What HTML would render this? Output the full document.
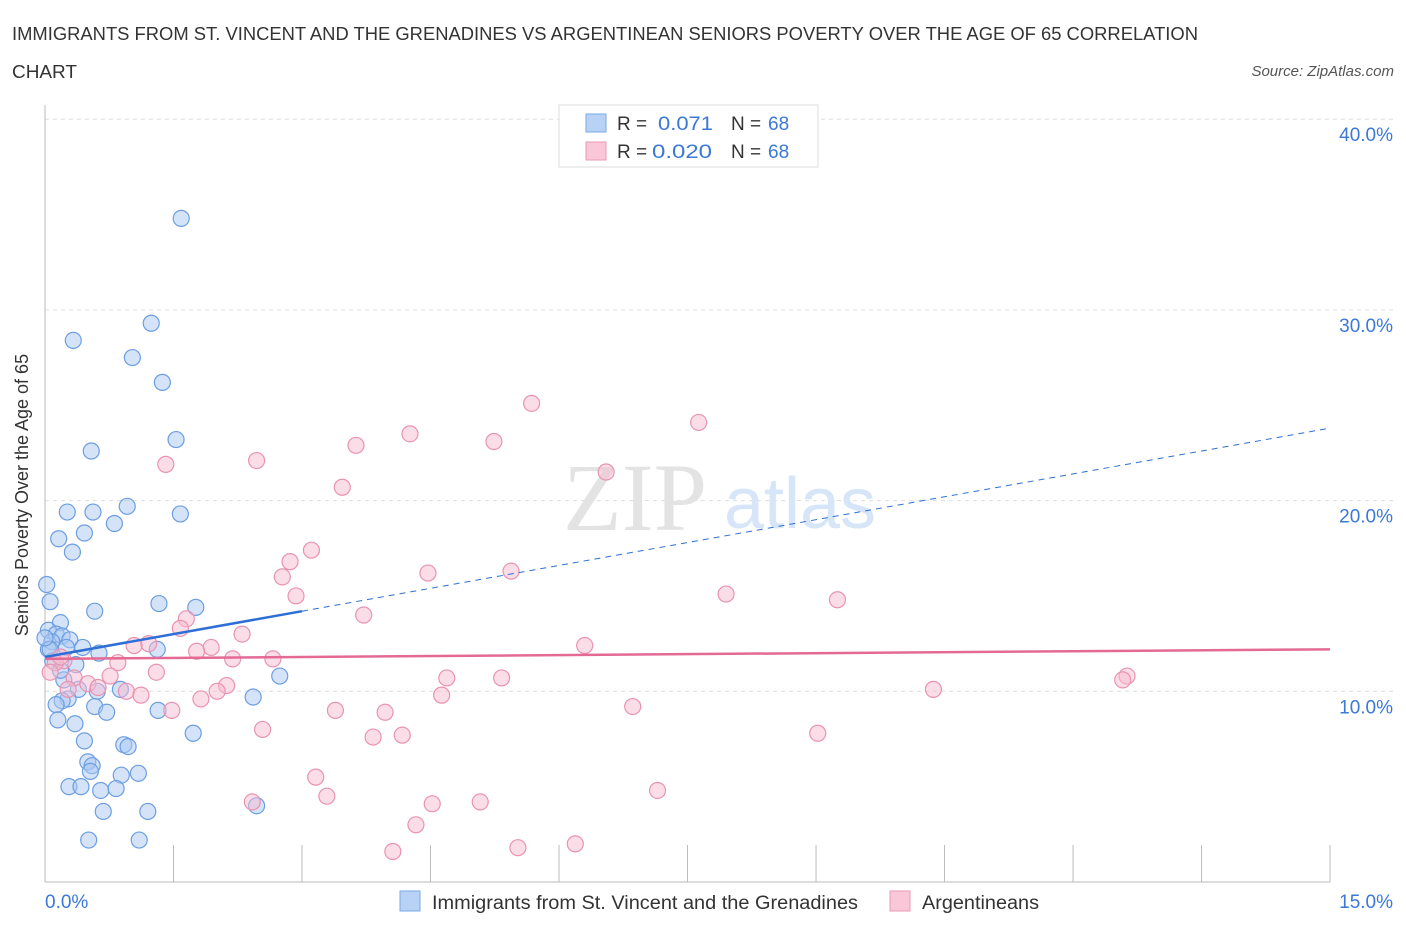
<!DOCTYPE html>
<html><head><meta charset="utf-8">
<style>
body{margin:0;background:#fff;font-family:"Liberation Sans",sans-serif;}
svg{display:block}
</style></head>
<body>
<svg id="chart" width="1406" height="930" xmlns="http://www.w3.org/2000/svg">
<text x="12" y="40" font-size="18" fill="#333" textLength="1186" lengthAdjust="spacingAndGlyphs">IMMIGRANTS FROM ST. VINCENT AND THE GRENADINES VS ARGENTINEAN SENIORS POVERTY OVER THE AGE OF 65 CORRELATION</text>
<text x="12" y="78" font-size="18" fill="#333" textLength="65" lengthAdjust="spacingAndGlyphs">CHART</text>
<text x="1394" y="76" font-size="15" fill="#555" font-style="italic" text-anchor="end">Source: ZipAtlas.com</text>
<text x="28" y="495" font-size="18" fill="#333" text-anchor="middle" transform="rotate(-90 28 495)">Seniors Poverty Over the Age of 65</text>
<g id="grid"></g>
<text x="635" y="530" font-size="96" fill="#e3e3e3" font-family="Liberation Serif,serif" text-anchor="middle">ZIP</text>
<text x="800" y="528" font-size="72" fill="#d6e5f7" text-anchor="middle">atlas</text>
<g id="marks"></g>
<g>
<rect x="559" y="105" width="259" height="62" fill="#fff" stroke="#ddd"/>
<rect x="586" y="114" width="20" height="18" fill="#b7d2f5" stroke="#7aa9e6"/>
<text y="130" font-size="19" fill="#333"><tspan x="617">R =</tspan><tspan x="658" fill="#3b78d8" textLength="55" lengthAdjust="spacingAndGlyphs">0.071</tspan><tspan x="731">N =</tspan><tspan x="768" fill="#3b78d8">68</tspan></text>
<rect x="586" y="142" width="20" height="18" fill="#f9c7d7" stroke="#ea98b5"/>
<text y="158" font-size="19" fill="#333"><tspan x="617">R =</tspan><tspan x="652" fill="#3b78d8" textLength="60" lengthAdjust="spacingAndGlyphs">0.020</tspan><tspan x="731">N =</tspan><tspan x="768" fill="#3b78d8">68</tspan></text>
</g>
<g>
<rect x="400" y="891" width="20" height="20" fill="#b7d2f5" stroke="#7aa9e6"/>
<text x="432" y="909" font-size="19" fill="#333" textLength="426" lengthAdjust="spacingAndGlyphs">Immigrants from St. Vincent and the Grenadines</text>
<rect x="890" y="891" width="20" height="20" fill="#f9c7d7" stroke="#ea98b5"/>
<text x="922" y="909" font-size="19" fill="#333" textLength="117" lengthAdjust="spacingAndGlyphs">Argentineans</text>
</g>
</svg>
<script>
const yTicks=[10,20,30,40];
const xTickLabels=["0.0%","15.0%"];
const blueX=[1.59,1.24,0.33,1.02,1.37,1.53,0.54,0.26,0.56,0.96,1.58,0.81,0.46,0.16,0.32,0.02,0.06,1.33,1.76,0.58,0.18,0.04,0.13,0.2,0.29,0.08,0.44,0.63,0.25,1.31,0.04,0.09,0.36,0.22,2.74,0.39,0.61,2.43,0.27,0.2,0.13,0.58,0.72,1.32,0.15,0.35,0.46,0.92,0.97,1.73,0.5,0.55,0.53,1.09,0.89,0.28,0.42,0.65,0.83,0.68,1.2,2.47,0.51,1.1,0.06,0.18,0.0,0.88];
const blueY=[34.8,29.3,28.4,27.5,26.2,23.2,22.6,19.4,19.4,19.7,19.3,18.8,18.3,18.0,17.3,15.6,14.7,14.6,14.4,14.2,13.6,13.2,13.0,12.9,12.7,12.6,12.3,12.0,12.3,12.2,12.2,11.6,11.4,10.6,10.8,10.1,10.0,9.7,9.6,9.5,9.3,9.2,8.9,9.0,8.5,8.3,7.4,7.2,7.1,7.8,6.3,6.1,5.8,5.7,5.6,5.0,5.0,4.8,4.9,3.7,3.7,4.0,2.2,2.2,12.2,11.1,12.8,10.1];
const pinkX=[5.68,7.63,4.26,5.24,3.63,1.41,2.47,6.55,3.47,3.11,2.86,2.77,4.47,5.44,2.93,7.95,9.25,3.72,1.65,1.58,2.3,1.21,1.04,6.3,1.94,1.77,2.19,2.66,0.85,1.3,0.76,4.69,5.33,12.63,12.58,0.34,0.5,2.12,2.01,0.62,0.95,1.12,1.82,10.37,4.63,0.22,0.12,0.06,6.86,1.48,3.39,3.97,2.54,3.83,4.17,9.02,3.16,3.29,7.15,2.42,4.52,5.08,4.33,4.06,5.52,6.19,0.27,0.18];
const pinkY=[25.1,24.1,23.5,23.1,22.9,21.9,22.1,21.5,20.7,17.4,16.8,16.0,16.2,16.3,15.0,15.1,14.8,14.0,13.8,13.3,13.0,12.5,12.4,12.4,12.3,12.1,11.7,11.7,11.5,11.0,10.8,10.7,10.7,10.8,10.6,10.7,10.4,10.3,10.0,10.2,10.0,9.8,9.6,10.1,9.8,11.6,11.5,11.0,9.2,9.0,9.0,8.9,8.0,7.6,7.7,7.8,5.5,4.5,4.8,4.2,4.1,4.2,3.0,1.6,1.8,2.0,10.1,11.8];
const blueLine=[11.8,0.8]; // intercept, slope
const pinkLine=[11.7,0.0333];
const X=v=>45+v*85.67, Y=v=>882-v*19.07;
const NS="http://www.w3.org/2000/svg";
function mk(t,a,p){const e=document.createElementNS(NS,t);for(const k in a)e.setAttribute(k,a[k]);p.appendChild(e);return e;}
const g=document.getElementById('grid'), m=document.getElementById('marks');
yTicks.forEach(t=>{
 const l=mk('line',{x1:45,x2:1394,y1:Y(t),y2:Y(t),stroke:'#ddd','stroke-dasharray':'4,4'},g);
 
 
 const tx=mk('text',{x:1393,y:Y(t)+22,'font-size':19,fill:'#3b78d8','text-anchor':'end'},g);
 tx.textContent=t.toFixed(1)+'%';
 
 
});
const ax=mk('line',{x1:45,x2:1330,y1:882,y2:882,stroke:'#bbb'},g);


const ay=mk('line',{x1:45,x2:45,y1:105,y2:882,stroke:'#bbb'},g);


for(let i=1;i<=10;i++){const t=mk('line',{x1:X(i*1.5),x2:X(i*1.5),y1:845,y2:882,stroke:'#bbb'},g);
 
 }
[[0,'start',45],[15,'end',1393]].forEach((d,i)=>{const t=mk('text',{x:d[2],y:908,'font-size':19,fill:'#3b78d8','text-anchor':d[1]},g);t.textContent=xTickLabels[i];
 
 });
function pts(xs,ys,fill,stroke,name){xs.forEach((x,i)=>{const c=mk('circle',{cx:X(x),cy:Y(ys[i]),r:8,fill:fill,'fill-opacity':0.5,stroke:stroke,'stroke-width':1.2},m);
 
 });}
pts(blueX,blueY,'#a9c8f2','#6c9ee2','blue-point');
pts(pinkX,pinkY,'#f7bcd0','#e993b2','pink-point');
const bl=mk('line',{x1:X(0),y1:Y(blueLine[0]),x2:X(3),y2:Y(blueLine[0]+3*blueLine[1]),stroke:'#2d6fd6','stroke-width':2.5},m);


const bd=mk('line',{x1:X(3),y1:Y(blueLine[0]+3*blueLine[1]),x2:X(15),y2:Y(blueLine[0]+15*blueLine[1]),stroke:'#2d6fd6','stroke-width':1,'stroke-dasharray':'6,5'},m);


const pl=mk('line',{x1:X(0),y1:Y(pinkLine[0]),x2:X(15),y2:Y(pinkLine[0]+15*pinkLine[1]),stroke:'#e46a95','stroke-width':2.5},m);


</script>
</body></html>
